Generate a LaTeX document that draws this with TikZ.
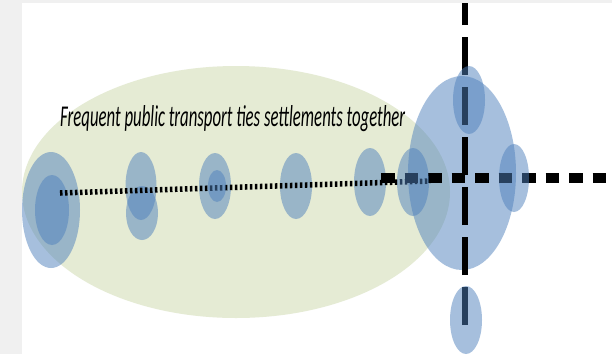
\documentclass[tikz,border=0pt]{standalone}
\usepackage{fontspec}
\setmainfont{Carlito}
\usepackage{graphicx}
\definecolor{pageGray}{RGB}{240,240,240}
\definecolor{sageGreen}{RGB}{229,235,212}
\definecolor{townBlue}{RGB}{79,129,189}
\tikzset{
  town/.style={fill=townBlue, fill opacity=0.5},
  region/.style={fill=sageGreen},
  dotline/.style={line width=5.5pt, dash pattern=on 2.5pt off 2.5pt, black},
  trunkV/.style={line width=6pt, dash pattern=on 38pt off 12pt, black},
  trunkH/.style={line width=10pt, dash pattern=on 13.5pt off 10pt, black},
}
\begin{document}
\begin{tikzpicture}[x=1pt, y=-1pt]
\useasboundingbox (0,0) rectangle (612,354);
\fill[white] (0,0) rectangle (612,354);
% green region
\fill[region] (236,192) ellipse [x radius=214, y radius=126];
% big hub
\fill[town] (462,173) ellipse [x radius=54, y radius=97];
% settlements under the lines
\fill[town] (51,210) ellipse [x radius=29, y radius=58];
\fill[town] (52,210) ellipse [x radius=17, y radius=35];
\fill[town] (141,186) ellipse [x radius=15.5, y radius=34];
\fill[town] (142,213) ellipse [x radius=16, y radius=27];
\fill[town] (215,186) ellipse [x radius=16, y radius=33];
\fill[town] (296,186) ellipse [x radius=16, y radius=33];
\fill[town] (370,182) ellipse [x radius=16, y radius=34];
% title
\node[anchor=base west, inner sep=0pt] (title) at (60,126)
  {\resizebox{345pt}{21pt}{\fontsize{31}{34}\selectfont\itshape Frequent public transport ties settlements together}};
% lines
\coordinate (dotA) at (60,193);
\coordinate (dotB) at (430,181);
\coordinate (vBot) at (465,325);
\coordinate (vTop) at (465,0);
\coordinate (hL) at (381,178);
\coordinate (hR) at (612,178);
\draw[dotline] (dotA) -- (dotB);
\draw[trunkV] (vBot) -- (vTop);
\draw[trunkH] (hL) -- (hR);
% settlements over the lines
\fill[town] (217,186) ellipse [x radius=9, y radius=16];
\fill[town] (413,182) ellipse [x radius=16, y radius=34];
\fill[town] (469,100) ellipse [x radius=16, y radius=34];
\fill[town] (514,178) ellipse [x radius=15, y radius=34];
\fill[town] (466,320) ellipse [x radius=16, y radius=34];
% page border
\fill[pageGray] (0,0) rectangle (612,3);
\fill[pageGray] (0,0) rectangle (22,354);
\end{tikzpicture}
\end{document}
